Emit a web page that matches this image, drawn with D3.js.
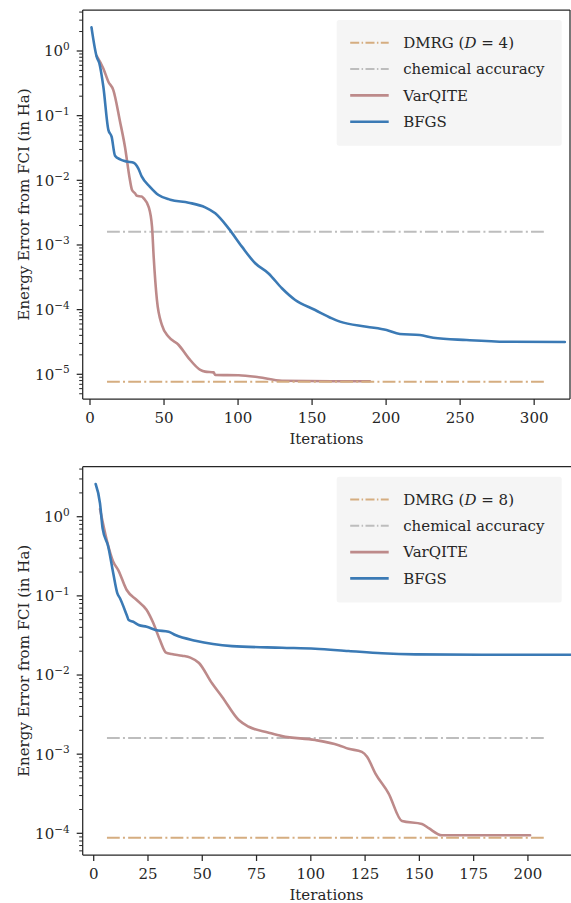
<!DOCTYPE html>
<html>
<head>
<meta charset="utf-8">
<script src="https://cdn.jsdelivr.net/npm/d3@7"></script>
<style>
  html, body { margin: 0; padding: 0; background: #fff; }
  svg { display: block; }
  text { font-family: "DejaVu Serif", serif; fill: #262626; }
</style>
</head>
<body>
<svg id="chart" width="571" height="903"></svg>
<script>
// ---------------- DATA ----------------
// Panel 1 (D = 4)
const p1BfgsIter = [1, 4.5, 6.3, 9, 12.4, 14.6, 16.9, 20.3, 24.8, 29.5, 32.6, 34.9, 40.5, 46.3, 54.2, 66.6, 77.8, 84.6, 93.6, 102.6, 111.6, 120.6, 129.6, 138.6, 152.1, 163.4, 168.8, 186.8, 200.3, 209.3, 222.8, 231.8, 254.3, 281.3, 320.7];
const p1BfgsVal  = [2.32, 0.817, 0.646, 0.282, 0.0603, 0.0473, 0.024, 0.0211, 0.0195, 0.01875, 0.0153, 0.01148, 0.00794, 0.00593, 0.00501, 0.00451, 0.00382, 0.00309, 0.00181, 0.000942, 0.000521, 0.000363, 0.000214, 0.000141, 9.86e-5, 7.33e-5, 6.52e-5, 5.45e-5, 4.84e-5, 4.2e-5, 4.06e-5, 3.68e-5, 3.39e-5, 3.19e-5, 3.16e-5];
const p1VarIter  = [4.5, 9, 12.4, 15.7, 20.3, 23.6, 27, 28.4, 30.4, 31.7, 34.9, 36.3, 39.6, 41.9, 43, 45.2, 48.6, 53.1, 59.9, 66.6, 74.5, 77.8, 83.5, 84.6, 100.4, 113.9, 129.6, 163.4, 189];
const p1VarVal   = [0.84, 0.537, 0.335, 0.251, 0.0807, 0.0331, 0.01, 0.00708, 0.0063, 0.00575, 0.00562, 0.00525, 0.00389, 0.00191, 0.000661, 0.000141, 5.75e-5, 3.8e-5, 2.84e-5, 1.78e-5, 1.17e-5, 1.1e-5, 1.07e-5, 9.77e-6, 9.66e-6, 9.0e-6, 7.94e-6, 7.82e-6, 7.8e-6];
const p1Dmrg = 7.65e-6;
const p1RefSpan = [11.5, 308];

// Panel 2 (D = 8)
const p2BfgsIter = [0.9, 2.9, 4.1, 6.7, 9, 10.9, 12.1, 15.2, 16.1, 18.2, 20.7, 24.4, 28.4, 34.5, 37.6, 46.8, 63.7, 86.7, 102, 117.4, 132.8, 148.1, 178.8, 222];
const p2BfgsVal  = [2.59, 1.476, 0.713, 0.418, 0.193, 0.1076, 0.0933, 0.0573, 0.0495, 0.0471, 0.0429, 0.0407, 0.0371, 0.0352, 0.032, 0.0271, 0.0232, 0.0221, 0.0215, 0.0201, 0.0188, 0.01824, 0.01803, 0.01803];
const p2VarIter  = [2.9, 6, 9, 11.3, 15.2, 19.8, 24.4, 27.5, 30.5, 33.3, 35.9, 40.7, 44.5, 48.5, 54.5, 59.1, 66.8, 71.4, 80.6, 86.7, 102, 112.8, 117.4, 123.5, 125.9, 129.7, 135.8, 142, 151.2, 154.3, 160.4, 201];
const p2VarVal   = [1.25, 0.508, 0.27, 0.212, 0.1186, 0.0887, 0.0662, 0.045, 0.0277, 0.0192, 0.0184, 0.01754, 0.0166, 0.0142, 0.00785, 0.00532, 0.0027, 0.00222, 0.00187, 0.00169, 0.00151, 0.0013, 0.00117, 0.00107, 0.000929, 0.000573, 0.00032, 0.000143, 0.000131, 0.000116, 9.44e-5, 9.44e-5];
const p2Dmrg = 8.8e-5;
const p2RefSpan = [6.1, 208.7];

const chemAcc = 1.6e-3;

const p1XTicks = [0, 50, 100, 150, 200, 250, 300];
const p2XTicks = [0, 25, 50, 75, 100, 125, 150, 175, 200];
const p1YExps = [0, -1, -2, -3, -4, -5];
const p2YExps = [0, -1, -2, -3, -4];

const seriesNames = ["DMRG", "chemical accuracy", "VarQITE", "BFGS"];
const colors = { dmrg: "#d5ad80", chem: "#bdbdbd", var: "#bd8a8a", bfgs: "#3b7ab5" };

// ---------------- DRAW ----------------
const svg = d3.select("#chart");
const axisColor = "#262626";

const panels = [
  { left: 82.7, right: 570, top: 10, bottom: 399,
    xDomain: [-4.93, 324.2], yDomain: [Math.pow(10, -5.382), Math.pow(10, 0.634)],
    xTicks: p1XTicks, yExps: p1YExps,
    bfgs: [p1BfgsIter, p1BfgsVal], vq: [p1VarIter, p1VarVal], dmrg: p1Dmrg, span: p1RefSpan,
    D: "4", rightSpine: true },
  { left: 82.7, right: 572, top: 466.7, bottom: 855,
    xDomain: [-5.07, 220.3], yDomain: [Math.pow(10, -4.274), Math.pow(10, 0.632)],
    xTicks: p2XTicks, yExps: p2YExps,
    bfgs: [p2BfgsIter, p2BfgsVal], vq: [p2VarIter, p2VarVal], dmrg: p2Dmrg, span: p2RefSpan,
    D: "8", rightSpine: false }
];

const minus = "\u2212";

panels.forEach((p, idx) => {
  const x = d3.scaleLinear().domain(p.xDomain).range([p.left, p.right]);
  const y = d3.scaleLog().domain(p.yDomain).range([p.bottom, p.top]);
  const g = svg.append("g");

  const clipId = "clip" + idx;
  svg.append("defs").append("clipPath").attr("id", clipId)
    .append("rect").attr("x", p.left).attr("y", p.top)
    .attr("width", p.right - p.left).attr("height", p.bottom - p.top);

  const plot = g.append("g").attr("clip-path", `url(#${clipId})`);
  const dashPattern = "12.8,3.2,2,3.2";

  // reference lines
  plot.append("line")
    .attr("x1", x(p.span[0])).attr("x2", x(p.span[1]))
    .attr("y1", y(chemAcc)).attr("y2", y(chemAcc))
    .attr("stroke", colors.chem).attr("stroke-width", 2).attr("stroke-dasharray", dashPattern);

  const line = d3.line().x(d => x(d[0])).y(d => y(d[1])).curve(d3.curveMonotoneX);
  const zip = (a, b) => a.map((v, i) => [v, b[i]]);

  plot.append("path").datum(zip(p.vq[0], p.vq[1]))
    .attr("d", line).attr("fill", "none").attr("stroke", colors.var)
    .attr("stroke-width", 2.6).attr("stroke-linejoin", "round").attr("stroke-linecap", "round");

  plot.append("line")
    .attr("x1", x(p.span[0])).attr("x2", x(p.span[1]))
    .attr("y1", y(p.dmrg)).attr("y2", y(p.dmrg))
    .attr("stroke", colors.dmrg).attr("stroke-width", 2).attr("stroke-dasharray", dashPattern);

  plot.append("path").datum(zip(p.bfgs[0], p.bfgs[1]))
    .attr("d", line).attr("fill", "none").attr("stroke", colors.bfgs)
    .attr("stroke-width", 2.6).attr("stroke-linejoin", "round").attr("stroke-linecap", "round");

  // legend
  const lg = g.append("g");
  const lx = 336.7, ly = p.top + 10, lw = 225, lh = 125.7;
  lg.append("rect").attr("x", lx).attr("y", ly).attr("width", lw).attr("height", lh)
    .attr("rx", 2.5).attr("fill", "#f5f5f5");
  const rows = [
    { key: "dmrg", color: colors.dmrg, dash: "9,2.4,1.5,2.4", lwid: 2 },
    { key: "chem", color: colors.chem, dash: "9,2.4,1.5,2.4", lwid: 2 },
    { key: "var", color: colors.var, dash: null, lwid: 2.6 },
    { key: "bfgs", color: colors.bfgs, dash: null, lwid: 2.6 }
  ];
  rows.forEach((r, i) => {
    const ry = ly + 22.8 + i * 26.3;
    const l = lg.append("line").attr("x1", lx + 13.5).attr("x2", lx + 52)
      .attr("y1", ry).attr("y2", ry).attr("stroke", r.color).attr("stroke-width", r.lwid);
    if (r.dash) l.attr("stroke-dasharray", r.dash);
    const t = lg.append("text").attr("x", lx + 66.5).attr("y", ry + 5.2).attr("font-size", 15);
    if (i === 0) {
      t.append("tspan").text(seriesNames[0] + " (");
      t.append("tspan").attr("font-style", "italic").text("D");
      t.append("tspan").text(" = " + p.D + ")");
    } else {
      t.text(seriesNames[i]);
    }
  });

  // spines
  const sp = g.append("g").attr("stroke", axisColor).attr("stroke-width", 1.25).attr("fill", "none");
  sp.append("line").attr("x1", p.left).attr("x2", p.left).attr("y1", p.top).attr("y2", p.bottom);
  sp.append("line").attr("x1", p.left).attr("x2", p.right).attr("y1", p.bottom).attr("y2", p.bottom);
  sp.append("line").attr("x1", p.left).attr("x2", p.right).attr("y1", p.top).attr("y2", p.top);
  if (p.rightSpine) sp.append("line").attr("x1", p.right).attr("x2", p.right).attr("y1", p.top).attr("y2", p.bottom);

  // x ticks
  p.xTicks.forEach(v => {
    const xx = x(v);
    g.append("line").attr("x1", xx).attr("x2", xx).attr("y1", p.bottom).attr("y2", p.bottom + 6)
      .attr("stroke", axisColor).attr("stroke-width", 1.25);
    g.append("text").attr("x", xx).attr("y", p.bottom + 24.3).attr("text-anchor", "middle")
      .attr("font-size", 15).text(v);
  });
  g.append("text").attr("x", (p.left + 570.3) / 2).attr("y", p.bottom + 45)
    .attr("text-anchor", "middle").attr("font-size", 15).text("Iterations");

  // y ticks (major + minor)
  const [lo, hi] = p.yDomain;
  const eLo = Math.floor(Math.log10(lo)), eHi = Math.ceil(Math.log10(hi));
  for (let e = eLo; e <= eHi; e++) {
    for (let m = 1; m <= 9; m++) {
      const v = m * Math.pow(10, e);
      if (v < lo || v > hi) continue;
      const yy = y(v);
      const len = m === 1 ? 6 : 3.5;
      g.append("line").attr("x1", p.left - len).attr("x2", p.left).attr("y1", yy).attr("y2", yy)
        .attr("stroke", axisColor).attr("stroke-width", m === 1 ? 1.25 : 1);
    }
  }
  p.yExps.forEach(e => {
    const yy = y(Math.pow(10, e));
    const t = g.append("text").attr("x", p.left - 13).attr("y", yy + 5.4)
      .attr("text-anchor", "end").attr("font-size", 15);
    t.append("tspan").text("10");
    t.append("tspan").attr("font-size", 10.5).attr("dy", -6.2)
      .text(e < 0 ? minus + Math.abs(e) : String(e));
  });

  g.append("text")
    .attr("transform", `translate(24,${(p.top + p.bottom) / 2}) rotate(-90)`)
    .attr("text-anchor", "middle").attr("dy", "0.35em").attr("font-size", 15)
    .text("Energy Error from FCI (in Ha)");
});
</script>
</body>
</html>
